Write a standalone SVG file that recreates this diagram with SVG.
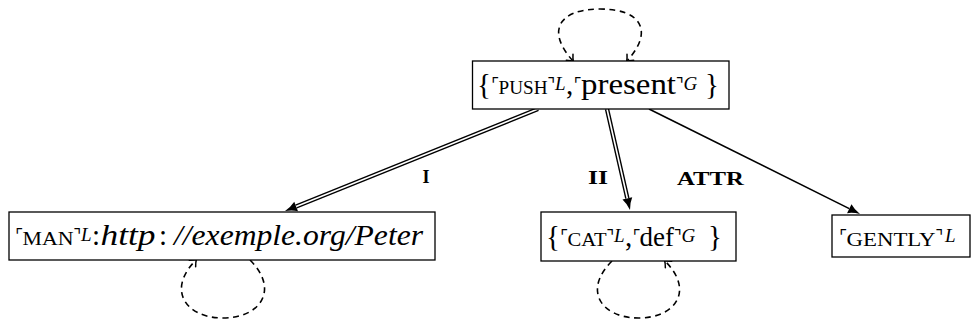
<svg xmlns="http://www.w3.org/2000/svg" width="971" height="327" viewBox="0 0 971 327">
<style>
  .box { fill: #fff; stroke: #000; stroke-width: 1.3; }
  .t, .t tspan { font-family: "Liberation Serif", "Times New Roman", serif; fill: #000; }
  .t { font-size: 29px; }
  .sc { font-size: 19px; }
  .it { font-style: italic; }
  .sup { font-size: 19px; font-style: italic; }
  .t tspan.cr { font-family: "DejaVu Sans", "DejaVu Serif", sans-serif; font-size: 17px; font-style: normal; }
  .lbl { font-family: "Liberation Serif", "DejaVu Serif", serif; font-size: 18px; font-weight: bold; fill: #000; }
  .dbl-o { fill: none; stroke: #000; stroke-width: 4.4; }
  .dbl-i { fill: none; stroke: #fff; stroke-width: 1.6; }
  .single { fill: none; stroke: #000; stroke-width: 1.6; }
  .loop { fill: none; stroke: #000; stroke-width: 1.6; stroke-dasharray: 6 4.5; }
</style>
<defs>
  <marker id="tip" markerUnits="userSpaceOnUse" viewBox="0 -6 13 12" refX="0" refY="0" markerWidth="13" markerHeight="12" orient="auto" overflow="visible">
    <path d="M0,-5 Q5,-1.5 12,0 Q5,1.5 0,5 z" fill="#000" stroke="none"/>
  </marker>
  <marker id="open" markerUnits="userSpaceOnUse" viewBox="-6 -6 8 12" refX="0" refY="0" markerWidth="8" markerHeight="12" orient="auto-start-reverse" overflow="visible">
    <path d="M-5,-4.5 Q-1.5,-1 0.5,0 Q-1.5,1 -5,4.5" fill="none" stroke="#000" stroke-width="1.5" stroke-linecap="round"/>
  </marker>
</defs>

<g id="connectors">
  <path class="dbl-o" d="M538,109 L296.13,206.51" marker-end="url(#tip)"/>
  <path class="dbl-i" d="M538,109 L296.13,206.51"/>
  <path class="dbl-o" d="M607,109 L627.34,198.30" marker-end="url(#tip)"/>
  <path class="dbl-i" d="M607,109 L627.34,198.30"/>
  <path class="single" d="M649,109 L849.26,208.65" marker-end="url(#tip)"/>
  <path class="loop" d="M573,61 C545,30 560,9 600,9 C640,9 655,30 627,61" marker-start="url(#open)" marker-end="url(#open)"/>
  <path class="loop" d="M250,260 C280,290 260,318 223,318 C186,318 166,290 196,260" marker-end="url(#open)"/>
  <path class="loop" d="M612,261 C582,291 602,318 638.5,318 C675,318 695,291 665,261" marker-end="url(#open)"/>
  <text class="lbl" x="426" y="183" text-anchor="middle">I</text>
  <text class="lbl" x="588" y="184" textLength="20" lengthAdjust="spacingAndGlyphs">II</text>
  <text class="lbl" x="677" y="185" textLength="67" lengthAdjust="spacingAndGlyphs">ATTR</text>
</g>

<g id="node-push">
  <rect class="box" x="472.5" y="61" width="256.5" height="48"/>
  <text class="t" y="94"><tspan x="477">{</tspan><tspan class="cr" x="491" y="90">⌜</tspan><tspan class="sc" x="498.5" y="94" textLength="49" lengthAdjust="spacingAndGlyphs">PUSH</tspan><tspan class="cr" x="547.5" y="90">⌝</tspan><tspan class="sup" x="555" y="90">L</tspan><tspan x="566" y="94">,</tspan><tspan class="cr" x="573.5" y="90">⌜</tspan><tspan x="581" y="94" textLength="95" lengthAdjust="spacingAndGlyphs">present</tspan><tspan class="cr" x="676" y="90">⌝</tspan><tspan class="sup" x="683.5" y="90">G</tspan><tspan x="705" y="94">}</tspan></text>
</g>

<g id="node-man">
  <rect class="box" x="9" y="212" width="426" height="48"/>
  <text class="t" y="245"><tspan class="cr" x="15" y="241">⌜</tspan><tspan class="sc" x="22.5" y="245" textLength="51" lengthAdjust="spacingAndGlyphs">MAN</tspan><tspan class="cr" x="73.5" y="241">⌝</tspan><tspan class="sup" x="81" y="241">L</tspan><tspan x="92" y="245">:</tspan><tspan class="it" x="100.5" textLength="55" lengthAdjust="spacingAndGlyphs">http</tspan><tspan x="159">:</tspan><tspan class="it" x="174" textLength="249" lengthAdjust="spacingAndGlyphs">//exemple.org/Peter</tspan></text>
</g>

<g id="node-cat">
  <rect class="box" x="541" y="212" width="195" height="49"/>
  <text class="t" y="246"><tspan x="546">{</tspan><tspan class="cr" x="560" y="242">⌜</tspan><tspan class="sc" x="567.5" y="246" textLength="39" lengthAdjust="spacingAndGlyphs">CAT</tspan><tspan class="cr" x="606.5" y="242">⌝</tspan><tspan class="sup" x="614" y="242">L</tspan><tspan x="625" y="246">,</tspan><tspan class="cr" x="632.5" y="242">⌜</tspan><tspan x="639.5" y="246" style="font-size:27px">def</tspan><tspan class="cr" x="674" y="242">⌝</tspan><tspan class="sup" x="681.5" y="242">G</tspan><tspan x="708" y="246">}</tspan></text>
</g>

<g id="node-gently">
  <rect class="box" x="832" y="215" width="138" height="42"/>
  <text class="t" y="246"><tspan class="cr" x="839" y="242">⌜</tspan><tspan class="sc" x="846.5" y="246" textLength="89" lengthAdjust="spacingAndGlyphs">GENTLY</tspan><tspan class="cr" x="935.5" y="242">⌝</tspan><tspan class="sup" x="945" y="242">L</tspan></text>
</g>
</svg>
